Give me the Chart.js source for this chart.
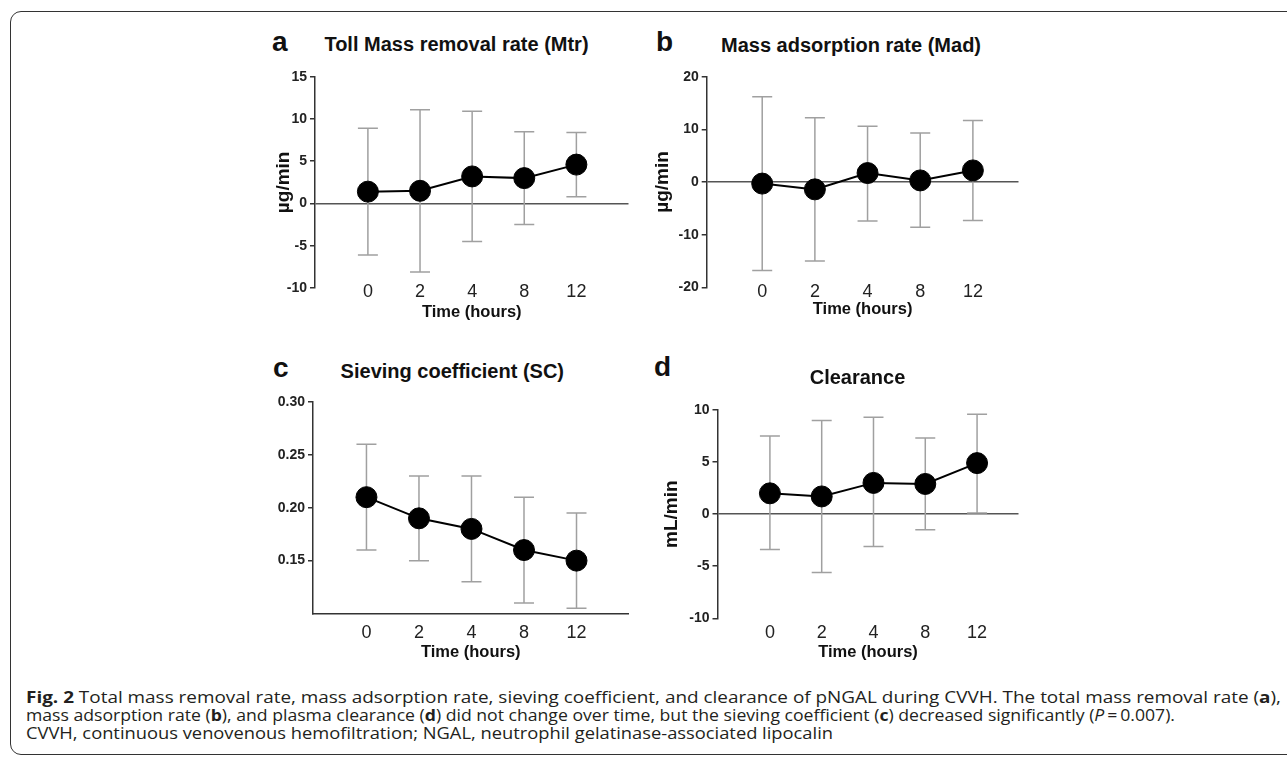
<!DOCTYPE html>
<html><head><meta charset="utf-8">
<script src="https://cdn.jsdelivr.net/npm/chart.js@4.4.0/dist/chart.umd.min.js"></script>
<style>
html,body{margin:0;padding:0;background:#fff;width:1287px;height:758px;overflow:hidden;}
#frame{position:absolute;left:10px;top:11px;width:1300px;height:744px;border:1.5px solid #333;border-radius:11px;box-sizing:border-box;}
canvas{position:absolute;}
.lbl{position:absolute;font-family:"Liberation Sans",Arial,sans-serif;font-weight:bold;color:#111;white-space:nowrap;line-height:1;z-index:5;}
.letter{font-size:28px;}
.ttl{font-size:20px;text-align:center;width:400px;}
#caption{position:absolute;left:26px;top:688px;font-family:"Open Sans",sans-serif;font-size:16px;line-height:18px;color:#231f20;}
#caption div{height:18px;white-space:nowrap;}
#caption span.line{display:inline-block;transform-origin:0 0;}
</style></head>
<body>
<div id="frame"></div>
<div class="lbl letter" style="left:272px;top:28px;">a</div>
<div class="lbl letter" style="left:656px;top:28px;">b</div>
<div class="lbl letter" style="left:273px;top:353.6px;">c</div>
<div class="lbl letter" style="left:654px;top:353px;">d</div>
<div class="lbl ttl" style="left:256.5px;top:33.8px;">Toll Mass removal rate (Mtr)</div>
<div class="lbl ttl" style="left:651px;top:34.8px;">Mass adsorption rate (Mad)</div>
<div class="lbl ttl" style="left:252.3px;top:361.4px;">Sieving coefficient (SC)</div>
<div class="lbl ttl" style="left:657.5px;top:367.1px;">Clearance</div>
<canvas id="ca" width="440" height="270" style="left:200px;top:60px;"></canvas>
<canvas id="cb" width="390" height="270" style="left:640px;top:60px;"></canvas>
<canvas id="cc" width="440" height="285" style="left:200px;top:385px;"></canvas>
<canvas id="cd" width="390" height="285" style="left:640px;top:385px;"></canvas>
<div id="caption">
<div><span class="line"><b>Fig. 2</b> Total mass removal rate, mass adsorption rate, sieving coefficient, and clearance of pNGAL during CVVH. The total mass removal rate (<b>a</b>),</span></div>
<div><span class="line">mass adsorption rate (<b>b</b>), and plasma clearance (<b>d</b>) did not change over time, but the sieving coefficient (<b>c</b>) decreased significantly (<i>P</i>&#8201;=&#8201;0.007).</span></div>
<div><span class="line">CVVH, continuous venovenous hemofiltration; NGAL, neutrophil gelatinase-associated lipocalin</span></div>
</div>
<script>
// ---- data ----
const times = ["0", "2", "4", "8", "12"];

const mtrMean  = [1.4, 1.5, 3.2, 3.0, 4.6];
const mtrUpper = [8.9, 11.1, 10.9, 8.5, 8.4];
const mtrLower = [-6.1, -8.1, -4.5, -2.5, 0.8];
const mtrTicks = [-10, -5, 0, 5, 10, 15];

const madMean  = [-0.3, -1.4, 1.7, 0.3, 2.2];
const madUpper = [16.2, 12.2, 10.6, 9.3, 11.7];
const madLower = [-16.8, -15.0, -7.4, -8.6, -7.3];
const madTicks = [-20, -10, 0, 10, 20];

const scMean  = [0.21, 0.19, 0.18, 0.16, 0.15];
const scUpper = [0.26, 0.23, 0.23, 0.21, 0.195];
const scLower = [0.16, 0.15, 0.13, 0.11, 0.105];
const scTicks = [0.15, 0.20, 0.25, 0.30];

const clMean  = [2.0, 1.7, 3.0, 2.9, 4.9];
const clUpper = [7.5, 9.0, 9.3, 7.3, 9.6];
const clLower = [-3.4, -5.6, -3.1, -1.5, 0.1];
const clTicks = [-10, -5, 0, 5, 10];

// ---- drawing ----
const FONT = '"Liberation Sans", Arial, sans-serif';

function errPlugin(lower, upper) {
  return {
    id: 'errbars',
    beforeDatasetsDraw(chart) {
      const ctx = chart.ctx, xs = chart.scales.x, ys = chart.scales.y;
      ctx.save();
      ctx.strokeStyle = '#a0a0a0';
      ctx.lineWidth = 1.5;
      for (let i = 0; i < lower.length; i++) {
        const px = xs.getPixelForValue(i);
        const yl = ys.getPixelForValue(lower[i]);
        const yu = ys.getPixelForValue(upper[i]);
        ctx.beginPath();
        ctx.moveTo(px, yl); ctx.lineTo(px, yu);
        ctx.moveTo(px - 10, yl); ctx.lineTo(px + 10, yl);
        ctx.moveTo(px - 10, yu); ctx.lineTo(px + 10, yu);
        ctx.stroke();
      }
      ctx.restore();
    }
  };
}

function panel(o) {
  return new Chart(document.getElementById(o.id), {
    type: 'line',
    data: {
      datasets: [{
        data: o.mean.map((m, i) => ({x: i, y: m})),
        borderColor: '#000', borderWidth: 2,
        pointRadius: 10.5, pointBorderWidth: 1,
        pointBackgroundColor: '#000', pointBorderColor: '#000',
        tension: 0, clip: false
      }]
    },
    plugins: [errPlugin(o.lower, o.upper)],
    options: {
      responsive: false, animation: false,
      layout: {padding: {left: 0, right: o.padR, top: o.padT, bottom: 0}},
      plugins: {legend: {display: false}, tooltip: {enabled: false}},
      scales: {
        x: {
          type: 'linear', min: o.xMin, max: o.xMax,
          afterBuildTicks: ax => { ax.ticks = times.map((t, i) => ({value: i})); },
          afterFit: s => { s.height = o.xH; },
          grid: {display: false, drawTicks: false},
          border: {display: o.xBorder, color: '#333', width: 1.5},
          ticks: {mirror: true, padding: o.xLabPad, color: '#222', maxRotation: 0, autoSkip: false,
                  font: {family: FONT, size: 18},
                  callback: v => (times[v] !== undefined ? times[v] : '')},
          title: {display: true, text: 'Time (hours)', color: '#111',
                  font: {family: FONT, size: 16.5, weight: 'bold'},
                  padding: {top: 0, bottom: o.xTitlePb}}
        },
        y: {
          min: o.yMin, max: o.yMax,
          afterBuildTicks: ax => { ax.ticks = o.yTicks.map(v => ({value: v})); },
          afterFit: s => { s.width = o.yW; },
          grid: {drawOnChartArea: true, drawTicks: true, tickLength: 5, lineWidth: 1.5,
                 tickColor: '#333',
                 color: c => (o.zero && c.tick && Math.abs(c.tick.value) < 1e-9) ? '#555' : 'rgba(0,0,0,0)'},
          border: {display: true, color: '#333', width: 1.5},
          ticks: {padding: 3, color: '#222', font: {family: FONT, size: 14, weight: 'bold'},
                  callback: v => o.fmt(v)},
          title: {display: !!o.yTitle, text: o.yTitle || '', color: '#111',
                  font: {family: FONT, size: 19, weight: 'bold'},
                  padding: {top: o.yTitlePad || 0, bottom: 0}}
        }
      }
    }
  });
}

const intFmt = v => String(v);
panel({id: 'ca', mean: mtrMean, lower: mtrLower, upper: mtrUpper, yTicks: mtrTicks,
  yMin: -10, yMax: 15, xMin: -1.015, xMax: 5.0, yW: 115, xH: 42, padR: 9, padT: 16.7,
  xLabPad: -14.5, xTitlePb: 8, xBorder: false, zero: true, fmt: intFmt,
  yTitle: 'µg/min', yTitlePad: 72.6});
panel({id: 'cb', mean: madMean, lower: madLower, upper: madUpper, yTicks: madTicks,
  yMin: -20, yMax: 20, xMin: -1.054, xMax: 4.866, yW: 66.7, xH: 42.7, padR: 11, padT: 16.7,
  xLabPad: -15.2, xTitlePb: 10.6, xBorder: false, zero: true, fmt: intFmt,
  yTitle: 'µg/min', yTitlePad: 11.6});
panel({id: 'cc', mean: scMean, lower: scLower, upper: scUpper, yTicks: scTicks,
  yMin: 0.10, yMax: 0.30, xMin: -1.018, xMax: 4.99, yW: 113, xH: 56.5, padR: 10, padT: 17,
  xLabPad: -30.3, xTitlePb: 8.1, xBorder: true, zero: false, fmt: v => v.toFixed(2),
  yTitle: ''});
panel({id: 'cd', mean: clMean, lower: clLower, upper: clUpper, yTicks: clTicks,
  yMin: -10, yMax: 10, xMin: -1.012, xMax: 4.80, yW: 77.5, xH: 51.7, padR: 11, padT: 25,
  xLabPad: -25.5, xTitlePb: 8.1, xBorder: false, zero: true, fmt: intFmt,
  yTitle: 'mL/min', yTitlePad: 20.3});

// fit caption lines to the reference widths
const capWidths = [1255, 1149, 807];
function fitCaption() {
  document.querySelectorAll('#caption span.line').forEach((el, i) => {
    el.style.transform = 'none';
    const w = el.getBoundingClientRect().width;
    if (w > 0) el.style.transform = 'scaleX(' + (capWidths[i] / w) + ')';
  });
}
fitCaption();
if (document.fonts && document.fonts.ready) document.fonts.ready.then(fitCaption);
</script>
</body></html>
